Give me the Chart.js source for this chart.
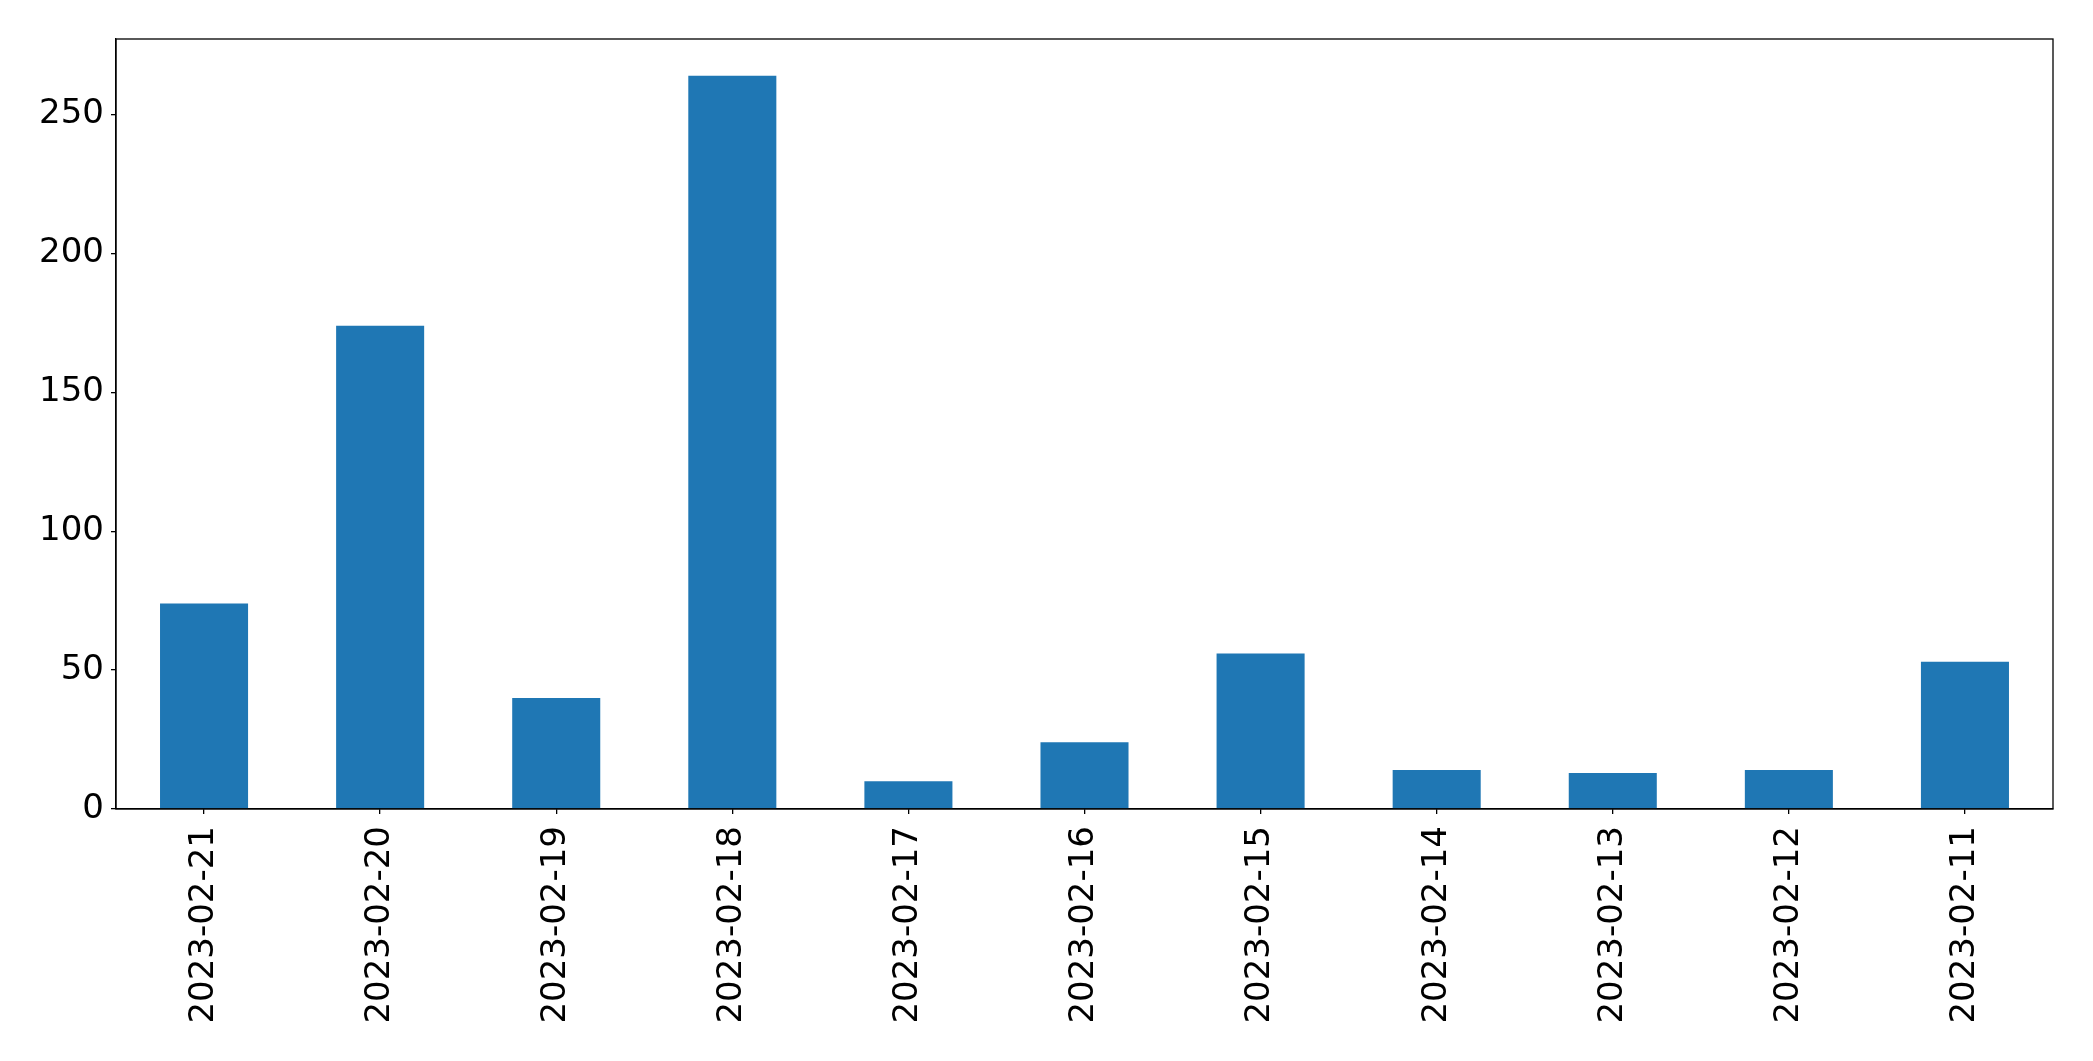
<!DOCTYPE html>
<html>
<head>
<meta charset="utf-8">
<script src="https://cdn.jsdelivr.net/npm/chart.js@4/dist/chart.umd.min.js"></script>
<style>
  html, body { margin: 0; padding: 0; background: #fff; }
  #wrap { width: 2093px; height: 1061px; }
</style>
</head>
<body>
<div id="wrap"><canvas id="graphic" width="2093" height="1061"></canvas></div>
<script>
// datos
const dates = ['2023-02-21', '2023-02-20', '2023-02-19', '2023-02-18', '2023-02-17', '2023-02-16',
               '2023-02-15', '2023-02-14', '2023-02-13', '2023-02-12', '2023-02-11'];
const counts = [74, 174, 40, 264, 10, 24, 56, 14, 13, 14, 53];
const yTicks = [0, 50, 100, 150, 200, 250];

const font = { family: 'DejaVu Sans', size: 34 };

// marco completo alrededor del area (como matplotlib)
const frame = {
    id: 'frame',
    afterDraw(chart) {
        const { ctx, chartArea: a } = chart;
        ctx.save();
        ctx.strokeStyle = '#000';
        ctx.lineWidth = 1.3;
        ctx.strokeRect(a.left, a.top, a.right - a.left, a.bottom - a.top);
        ctx.restore();
    }
};

new Chart(document.getElementById('graphic').getContext('2d'), {
    type: 'bar',
    data: {
        labels: dates,
        datasets: [{
            data: counts,
            backgroundColor: '#1f77b4',
            borderWidth: 0,
            categoryPercentage: 1,
            barPercentage: 0.5
        }]
    },
    options: {
        responsive: false,
        animation: false,
        layout: { padding: { top: 39, right: 40, left: 0, bottom: 0 } },
        plugins: {
            legend: { display: false },
            tooltip: { enabled: false }
        },
        scales: {
            x: {
                offset: true,
                grid: { display: true, offset: false, drawOnChartArea: false, drawTicks: true, tickLength: 5, tickColor: '#000', lineWidth: 1.3 },
                border: { display: true, color: '#000', width: 1.3 },
                ticks: { color: '#000', font, minRotation: 90, maxRotation: 90, padding: 12, autoSkip: false },
                afterFit: s => { s.height = 252; }
            },
            y: {
                min: 0,
                max: Math.max(...counts) * 1.05,
                afterBuildTicks: s => { s.ticks = yTicks.map(v => ({ value: v })); },
                grid: { display: true, drawOnChartArea: false, drawTicks: true, tickLength: 5, tickColor: '#000', lineWidth: 1.3 },
                border: { display: true, color: '#000', width: 1.3 },
                ticks: { color: '#000', font, padding: 7 },
                afterFit: s => { s.width = 116; }
            }
        }
    },
    plugins: [frame]
});
</script>
</body>
</html>
